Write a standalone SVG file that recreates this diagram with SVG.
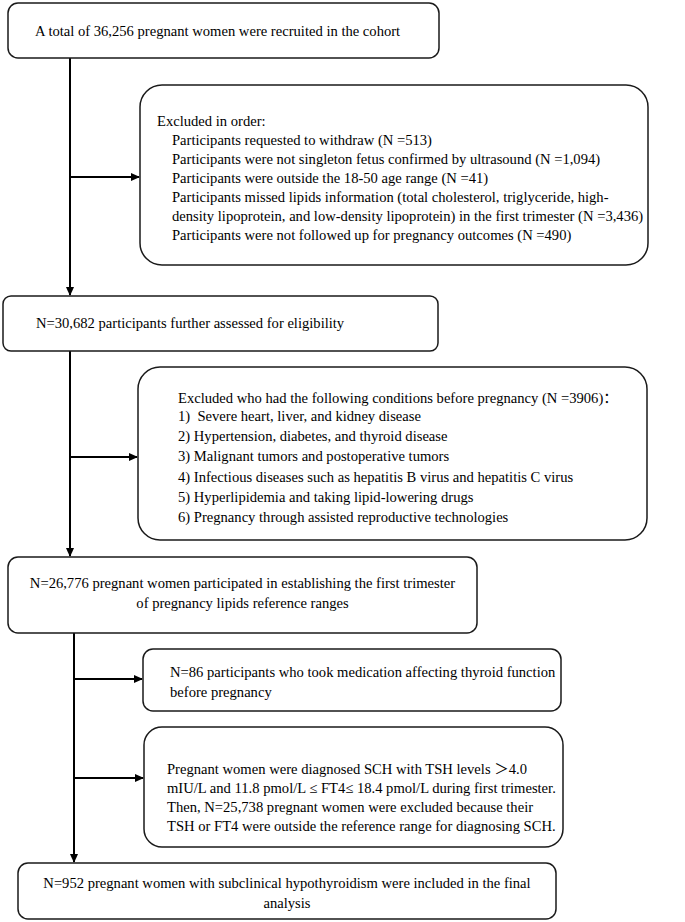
<svg xmlns="http://www.w3.org/2000/svg" width="685" height="922" viewBox="0 0 685 922">
<defs>
<style>
.box{fill:#fff;stroke:#1a1a1a;stroke-width:1.5}
.t{font-family:"Liberation Serif","Noto Sans CJK SC",serif;font-size:14.6px;fill:#000;white-space:pre}
.c{text-anchor:middle}
.ln{stroke:#000;stroke-width:2;fill:none}
</style>
<marker id="ah" markerUnits="userSpaceOnUse" markerWidth="9" markerHeight="8" refX="8" refY="4" orient="auto">
<path d="M0,0 L9,4 L0,8 Z" fill="#000"/>
</marker>
</defs>
<rect width="685" height="922" fill="#fff"/>
<g id="connectors">
<line class="ln" x1="70" y1="58" x2="70" y2="295" marker-end="url(#ah)"/>
<line class="ln" x1="70" y1="177" x2="139" y2="177" marker-end="url(#ah)"/>
<line class="ln" x1="70" y1="351" x2="70" y2="556" marker-end="url(#ah)"/>
<line class="ln" x1="70" y1="457" x2="137" y2="457" marker-end="url(#ah)"/>
<line class="ln" x1="74" y1="633" x2="74" y2="862" marker-end="url(#ah)"/>
<line class="ln" x1="74" y1="679" x2="142" y2="679" marker-end="url(#ah)"/>
<line class="ln" x1="74" y1="778" x2="143" y2="778" marker-end="url(#ah)"/>
</g>
<g id="n1">
<rect class="box" x="8" y="3" width="431" height="55" rx="10"/>
<text class="t" x="35" y="36">A total of 36,256 pregnant women were recruited in the cohort</text>
</g>
<g id="n2">
<rect class="box" x="140" y="85" width="508" height="180" rx="22"/>
<text class="t" x="157" y="126">Excluded in order:</text>
<text class="t" x="172" y="145">Participants requested to withdraw (N =513)</text>
<text class="t" x="172" y="164">Participants were not singleton fetus confirmed by ultrasound (N =1,094)</text>
<text class="t" x="172" y="183">Participants were outside the 18-50 age range (N =41)</text>
<text class="t" x="172" y="202">Participants missed lipids information (total cholesterol, triglyceride, high-</text>
<text class="t" x="172" y="221">density lipoprotein, and low-density lipoprotein) in the first trimester (N =3,436)</text>
<text class="t" x="172" y="240">Participants were not followed up for pregnancy outcomes (N =490)</text>
</g>
<g id="n3">
<rect class="box" x="3" y="296" width="435" height="55" rx="8"/>
<text class="t" x="36" y="328">N=30,682 participants further assessed for eligibility</text>
</g>
<g id="n4">
<rect class="box" x="138" y="367" width="509" height="173" rx="22"/>
<text class="t" x="178" y="403">Excluded who had the following conditions before pregnancy (N =3906)：</text>
<text class="t" x="178" y="421">1)  Severe heart, liver, and kidney disease</text>
<text class="t" x="178" y="441">2) Hypertension, diabetes, and thyroid disease</text>
<text class="t" x="178" y="461">3) Malignant tumors and postoperative tumors</text>
<text class="t" x="178" y="482">4) Infectious diseases such as hepatitis B virus and hepatitis C virus</text>
<text class="t" x="178" y="502">5) Hyperlipidemia and taking lipid-lowering drugs</text>
<text class="t" x="178" y="522">6) Pregnancy through assisted reproductive technologies</text>
</g>
<g id="n5">
<rect class="box" x="8" y="557" width="469" height="76" rx="10"/>
<text class="t c" x="242.5" y="588">N=26,776 pregnant women participated in establishing the first trimester</text>
<text class="t c" x="242.5" y="608">of pregnancy lipids reference ranges</text>
</g>
<g id="n6">
<rect class="box" x="143" y="649" width="418" height="62" rx="10"/>
<text class="t" x="170" y="677">N=86 participants who took medication affecting thyroid function</text>
<text class="t" x="170" y="697">before pregnancy</text>
</g>
<g id="n7">
<rect class="box" x="144" y="727" width="419" height="120" rx="18"/>
<text class="t" x="167" y="774">Pregnant women were diagnosed SCH with TSH levels ＞4.0</text>
<text class="t" x="167" y="793">mIU/L and 11.8 pmol/L ≤ FT4≤ 18.4 pmol/L during first trimester.</text>
<text class="t" x="167" y="812">Then, N=25,738 pregnant women were excluded because their</text>
<text class="t" x="167" y="831">TSH or FT4 were outside the reference range for diagnosing SCH.</text>
</g>
<g id="n8">
<rect class="box" x="18" y="863" width="538" height="56" rx="10"/>
<text class="t c" x="287" y="888">N=952 pregnant women with subclinical hypothyroidism were included in the final</text>
<text class="t c" x="287" y="908">analysis</text>
</g>
</svg>
